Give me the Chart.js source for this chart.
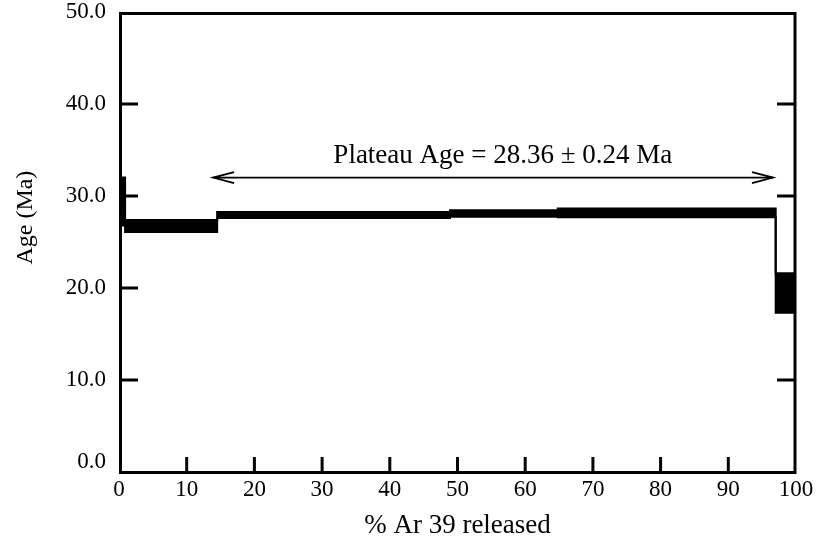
<!DOCTYPE html>
<html><head><meta charset="utf-8">
<script src="https://cdn.jsdelivr.net/npm/chart.js@4.4.0/dist/chart.umd.min.js"></script>
<style>html,body{margin:0;padding:0;background:#fff}#wrap{width:828px;height:539px;position:relative}</style>
</head><body><div id="wrap"><canvas id="c"></canvas></div>
<script>
// Step spectrum: each step starts at stepStarts[i] (% Ar39 released) and spans ageLow..ageHigh (Ma)
const stepStarts = [0, 0.9, 14.5, 48.9, 64.8, 97.0, 100];
const ageHigh    = [32.0, 27.4, 28.25, 28.45, 28.65, 21.6, 21.6];
const ageLow     = [26.8, 26.1, 27.6, 27.75, 27.7, 17.3, 17.3];
const plateauRange = [13.9, 96.6];
const plateauAge = 32.0;
const plateauLabel = 'Plateau Age = 28.36 \u00b1 0.24 Ma';
const xTickValues = [0, 10, 20, 30, 40, 50, 60, 70, 80, 90, 100];
const yTickValues = [0, 10, 20, 30, 40, 50];
const xTitle = '% Ar 39 released';
const yTitle = 'Age (Ma)';

const SERIF = '"Liberation Serif", "Times New Roman", serif';

const framePlugin = {
  id: 'frame',
  afterDraw(chart) {
    const {ctx, chartArea: a, scales: {x, y}} = chart;
    ctx.save();
    ctx.strokeStyle = '#000';
    ctx.lineWidth = 3;
    ctx.lineCap = 'square';
    ctx.beginPath();
    ctx.moveTo(a.left + 1.5, a.bottom + 0.5);
    ctx.lineTo(a.left + 1.5, a.top + 1.5);
    ctx.lineTo(a.right - 1, a.top + 1.5);
    ctx.lineTo(a.right - 1, a.bottom + 0.5);
    ctx.closePath();
    ctx.stroke();
    ctx.lineCap = 'butt';
    // inward ticks
    y.ticks.forEach(t => {
      if (t.value <= y.min || t.value >= y.max) return;
      const py = y.getPixelForValue(t.value);
      ctx.beginPath();
      ctx.moveTo(a.left, py); ctx.lineTo(a.left + 19, py);
      ctx.moveTo(a.right, py); ctx.lineTo(a.right - 19, py);
      ctx.stroke();
    });
    x.ticks.forEach(t => {
      if (t.value <= x.min || t.value >= x.max) return;
      const px = x.getPixelForValue(t.value);
      ctx.beginPath();
      ctx.moveTo(px, a.bottom); ctx.lineTo(px, a.bottom - 15);
      ctx.stroke();
    });
    // arrowheads on plateau line
    const meta = chart.getDatasetMeta(2);
    const p0 = meta.data[0], p1 = meta.data[1];
    ctx.lineWidth = 1.8;
    ctx.beginPath();
    ctx.moveTo(p0.x + 21, p0.y - 5.5); ctx.lineTo(p0.x, p0.y); ctx.lineTo(p0.x + 21, p0.y + 5.5);
    ctx.moveTo(p1.x - 21, p1.y - 5.5); ctx.lineTo(p1.x, p1.y); ctx.lineTo(p1.x - 21, p1.y + 5.5);
    ctx.stroke();
    // plateau label
    ctx.fillStyle = '#000';
    ctx.font = '27px ' + SERIF;
    ctx.textAlign = 'center';
    ctx.textBaseline = 'alphabetic';
    ctx.fillText(plateauLabel, x.getPixelForValue(56.7), y.getPixelForValue(33.55));
    // y-axis title
    ctx.save();
    ctx.translate(26, a.top + a.height * 0.447);
    ctx.rotate(-Math.PI / 2);
    ctx.font = '24px ' + SERIF;
    ctx.textBaseline = 'middle';
    ctx.fillText(yTitle, 0, 0);
    ctx.restore();
    ctx.restore();
  }
};

new Chart(document.getElementById('c'), {
  type: 'line',
  data: {
    datasets: [
      {
        data: stepStarts.map((v, i) => ({x: v, y: ageHigh[i]})),
        stepped: true, borderColor: '#000', borderWidth: 2, pointRadius: 0, fill: false
      },
      {
        data: stepStarts.map((v, i) => ({x: v, y: ageLow[i]})),
        stepped: true, borderColor: '#000', borderWidth: 2, pointRadius: 0,
        fill: 0, backgroundColor: '#000'
      },
      {
        data: [{x: plateauRange[0], y: plateauAge}, {x: plateauRange[1], y: plateauAge}],
        borderColor: '#000', borderWidth: 1.8, pointRadius: 0, fill: false
      }
    ]
  },
  options: {
    responsive: true,
    maintainAspectRatio: false,
    animation: false,
    events: [],
    layout: {padding: {top: 12, right: 32, left: 0, bottom: 0}},
    plugins: {legend: {display: false}, tooltip: {enabled: false}},
    scales: {
      x: {
        type: 'linear', min: 0, max: 100,
        afterBuildTicks: s => { s.ticks = xTickValues.map(v => ({value: v})); },
        afterFit: s => { s.height = 67; s.paddingLeft = 0; s.paddingRight = 0; },
        grid: {display: false, drawTicks: false},
        border: {display: false},
        ticks: {color: '#000', font: {family: SERIF, size: 23}, padding: 4, maxRotation: 0, autoSkip: false,
                callback: v => String(v)},
        title: {display: true, text: xTitle, color: '#000', font: {family: SERIF, size: 27, lineHeight: 1}, padding: 0}
      },
      y: {
        type: 'linear', min: 0, max: 50,
        afterBuildTicks: s => { s.ticks = yTickValues.map(v => ({value: v})); },
        afterFit: s => { s.width = 119; s.paddingTop = 0; s.paddingBottom = 0; },
        grid: {display: false, drawTicks: false},
        border: {display: false},
        ticks: {color: '#000', font: {family: SERIF, size: 23, lineHeight: 0.9}, padding: 13, autoSkip: false,
                callback: v => v === 0 ? ['0.0', ''] : v.toFixed(1)}
      }
    }
  },
  plugins: [framePlugin]
});
</script>
</body></html>
